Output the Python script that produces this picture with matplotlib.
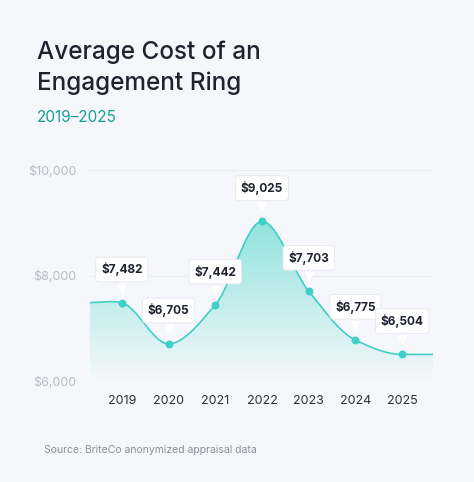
import matplotlib.pyplot as plt
import matplotlib.transforms as mtransforms
import numpy as np
from matplotlib.patches import Polygon
from matplotlib.colors import LinearSegmentedColormap

years = [2019, 2020, 2021, 2022, 2023, 2024, 2025]
costs = [7482, 6705, 7442, 9025, 7703, 6775, 6504]
labels = ["$7,482", "$6,705", "$7,442", "$9,025", "$7,703", "$6,775", "$6,504"]
y_ticks = [6000, 8000, 10000]
y_tick_labels = ["$6,000", "$8,000", "$10,000"]

BG = "#f5f7fc"
TEAL = "#3fcfc4"
plt.rcParams['font.family'] = ['Inter', 'DejaVu Sans']


def pchip(x, y, xs):
    # monotone cubic, just for the smooth look of the line
    x = np.asarray(x, float)
    y = np.asarray(y, float)
    h = np.diff(x)
    d = np.diff(y) / h
    m = np.zeros_like(y)
    for i in range(1, len(y) - 1):
        if d[i - 1] * d[i] > 0:
            m[i] = 2 / (1 / d[i - 1] + 1 / d[i])
    idx = np.clip(np.searchsorted(x, xs) - 1, 0, len(x) - 2)
    t = (xs - x[idx]) / h[idx]
    h00 = 2 * t**3 - 3 * t**2 + 1
    h10 = t**3 - 2 * t**2 + t
    h01 = -2 * t**3 + 3 * t**2
    h11 = t**3 - t**2
    return h00 * y[idx] + h10 * h[idx] * m[idx] + h01 * y[idx + 1] + h11 * h[idx] * m[idx + 1]


fig = plt.figure(figsize=(4.74, 4.82), dpi=100, facecolor=BG)
ax = fig.add_axes([90 / 474, 1 - 381 / 482, 343 / 474, 211 / 482], facecolor=BG)

xl, xr = 2019 - 0.68, 2025 + 0.66
ext_x = [xl, 2018.8] + years + [2025.5, xr]
ext_y = [costs[0] + 5, 7505] + costs + [costs[-1], costs[-1]]
xs = np.linspace(xl, xr, 600)
ys = pchip(ext_x, ext_y, xs)

ax.set_xlim(xl, xr)
ax.set_ylim(6000, 10000)

# gradient fill under the curve
grad = np.linspace(0, 1, 256).reshape(-1, 1)
cmap = LinearSegmentedColormap.from_list("g", [BG, "#8fe3dc"])
img = ax.imshow(grad, extent=[xl, xr, 6000, 9100], origin="lower", aspect="auto",
                cmap=cmap, zorder=1)
poly = Polygon(np.column_stack([np.r_[xs, xr, xl], np.r_[ys, 6000, 6000]]),
               closed=True, transform=ax.transData, facecolor="none", edgecolor="none")
ax.add_patch(poly)
img.set_clip_path(poly)
ax.plot(xs, ys, color=TEAL, lw=1.2, zorder=3)
ax.scatter(years, costs, color=TEAL, s=22, zorder=4)

for yt in y_ticks:
    ax.axhline(yt, color="#e9ecf4", lw=0.8, zorder=0)

shift = ax.transData + mtransforms.ScaledTranslation(0, 11 / 72, fig.dpi_scale_trans)
for x, y, lab in zip(years, costs, labels):
    ax.annotate(lab, (x, y), xytext=(0, 24), textcoords="offset points",
                ha="center", va="center", fontsize=8.5, fontweight="bold", color="#1e2330",
                bbox=dict(boxstyle="round,pad=0.45,rounding_size=0.25", fc="white",
                          ec="#e6e8ee", lw=0.6), zorder=6)
    ax.plot(x, y, marker="v", ms=6, color="white", zorder=5, transform=shift)

ax.set_xticks(years)
ax.set_xticklabels([str(y) for y in years], fontsize=9, color="#2a2f3a")
ax.set_yticks(y_ticks)
ax.set_yticklabels(y_tick_labels, fontsize=9, color="#b8bcc8")
ax.tick_params(length=0, pad=10)
for s in ax.spines.values():
    s.set_visible(False)

fig.text(37 / 474, 1 - 52 / 482, "Average Cost of an", fontsize=17.5, fontweight="medium",
         color="#1e2330", va="center")
fig.text(37 / 474, 1 - 83 / 482, "Engagement Ring", fontsize=17.5, fontweight="medium",
         color="#1e2330", va="center")
fig.text(37 / 474, 1 - 117 / 482, "2019\u20132025", fontsize=11, color="#1a9e92", va="center")
fig.text(44 / 474, 1 - 450 / 482, "Source: BriteCo anonymized appraisal data", fontsize=7.5,
         color="#8a8f9c", va="center")

fig.savefig("out.png", dpi=100, facecolor=BG)
